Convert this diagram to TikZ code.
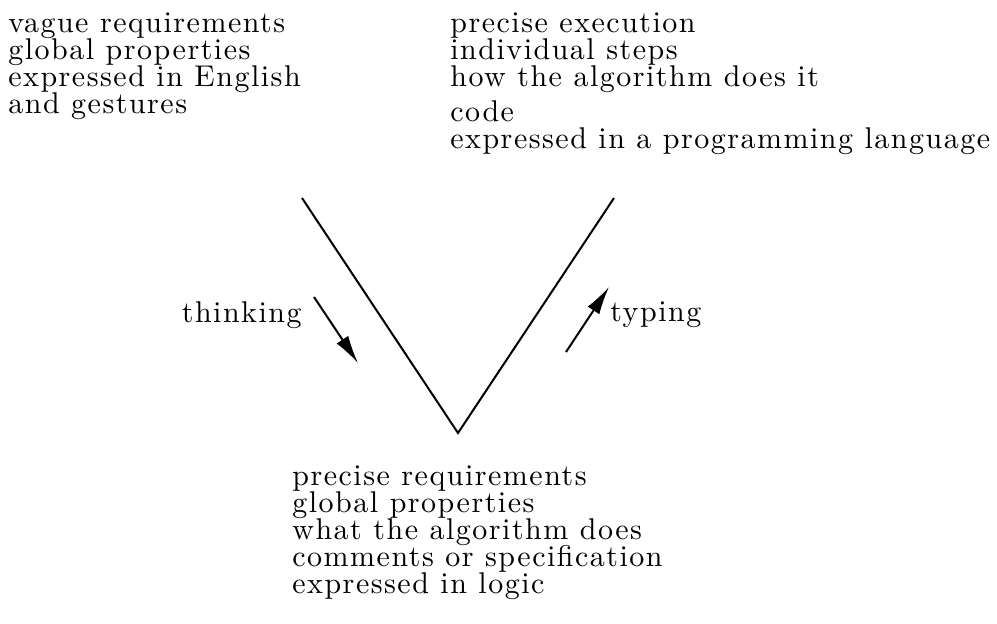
\documentclass[tikz,border=0pt]{standalone}
\usepackage{fontspec}
\usetikzlibrary{arrows.meta}
\newfontfamily\vfont{lmroman10-regular.otf}[LetterSpace=5]
\newcommand\vtext{\vfont\fontsize{15}{13.5}\selectfont\lineskiplimit=-20pt}
\begin{document}
\begin{tikzpicture}[x=0.5pt,y=-0.5pt,
    txt/.style={anchor=north west,inner sep=0pt,align=left,font=\vtext},
    lbl/.style={inner sep=0pt,font=\vtext},
    vee/.style={line width=1pt},
    dir/.style={line width=1pt,-{Latex[length=14pt,width=7pt]}}]
    \useasboundingbox (0,0) rectangle (997,623);
    % the three corners of the V
    \coordinate (vl) at (302,198);
    \coordinate (vb) at (458,433);
    \coordinate (vr) at (614,198);
    \draw[vee] (vl) -- (vb) -- (vr);
    % texts at the corners
    \node[txt] (vague) at (8,12) {vague requirements\\global properties\\expressed in English\\and gestures};
    \node[txt] (exec) at (450,12) {precise execution\\individual steps\\how the algorithm does it};
    \node[txt] (code) at (450,100) {code\\expressed in a programming language};
    \node[txt] (spec) at (292,465) {precise requirements\\global properties\\what the algorithm does\\comments or specification\\expressed in logic};
    % thinking and typing
    \node[lbl,anchor=east] (think) at (302,315) {thinking};
    \node[lbl,anchor=west] (type) at (610,315) {typing};
    \coordinate (t1) at (314,297);
    \coordinate (t2) at (358,363);
    \coordinate (y1) at (566,352);
    \coordinate (y2) at (609,287);
    \draw[dir] (t1) -- (t2);
    \draw[dir] (y1) -- (y2);
\end{tikzpicture}
\end{document}
